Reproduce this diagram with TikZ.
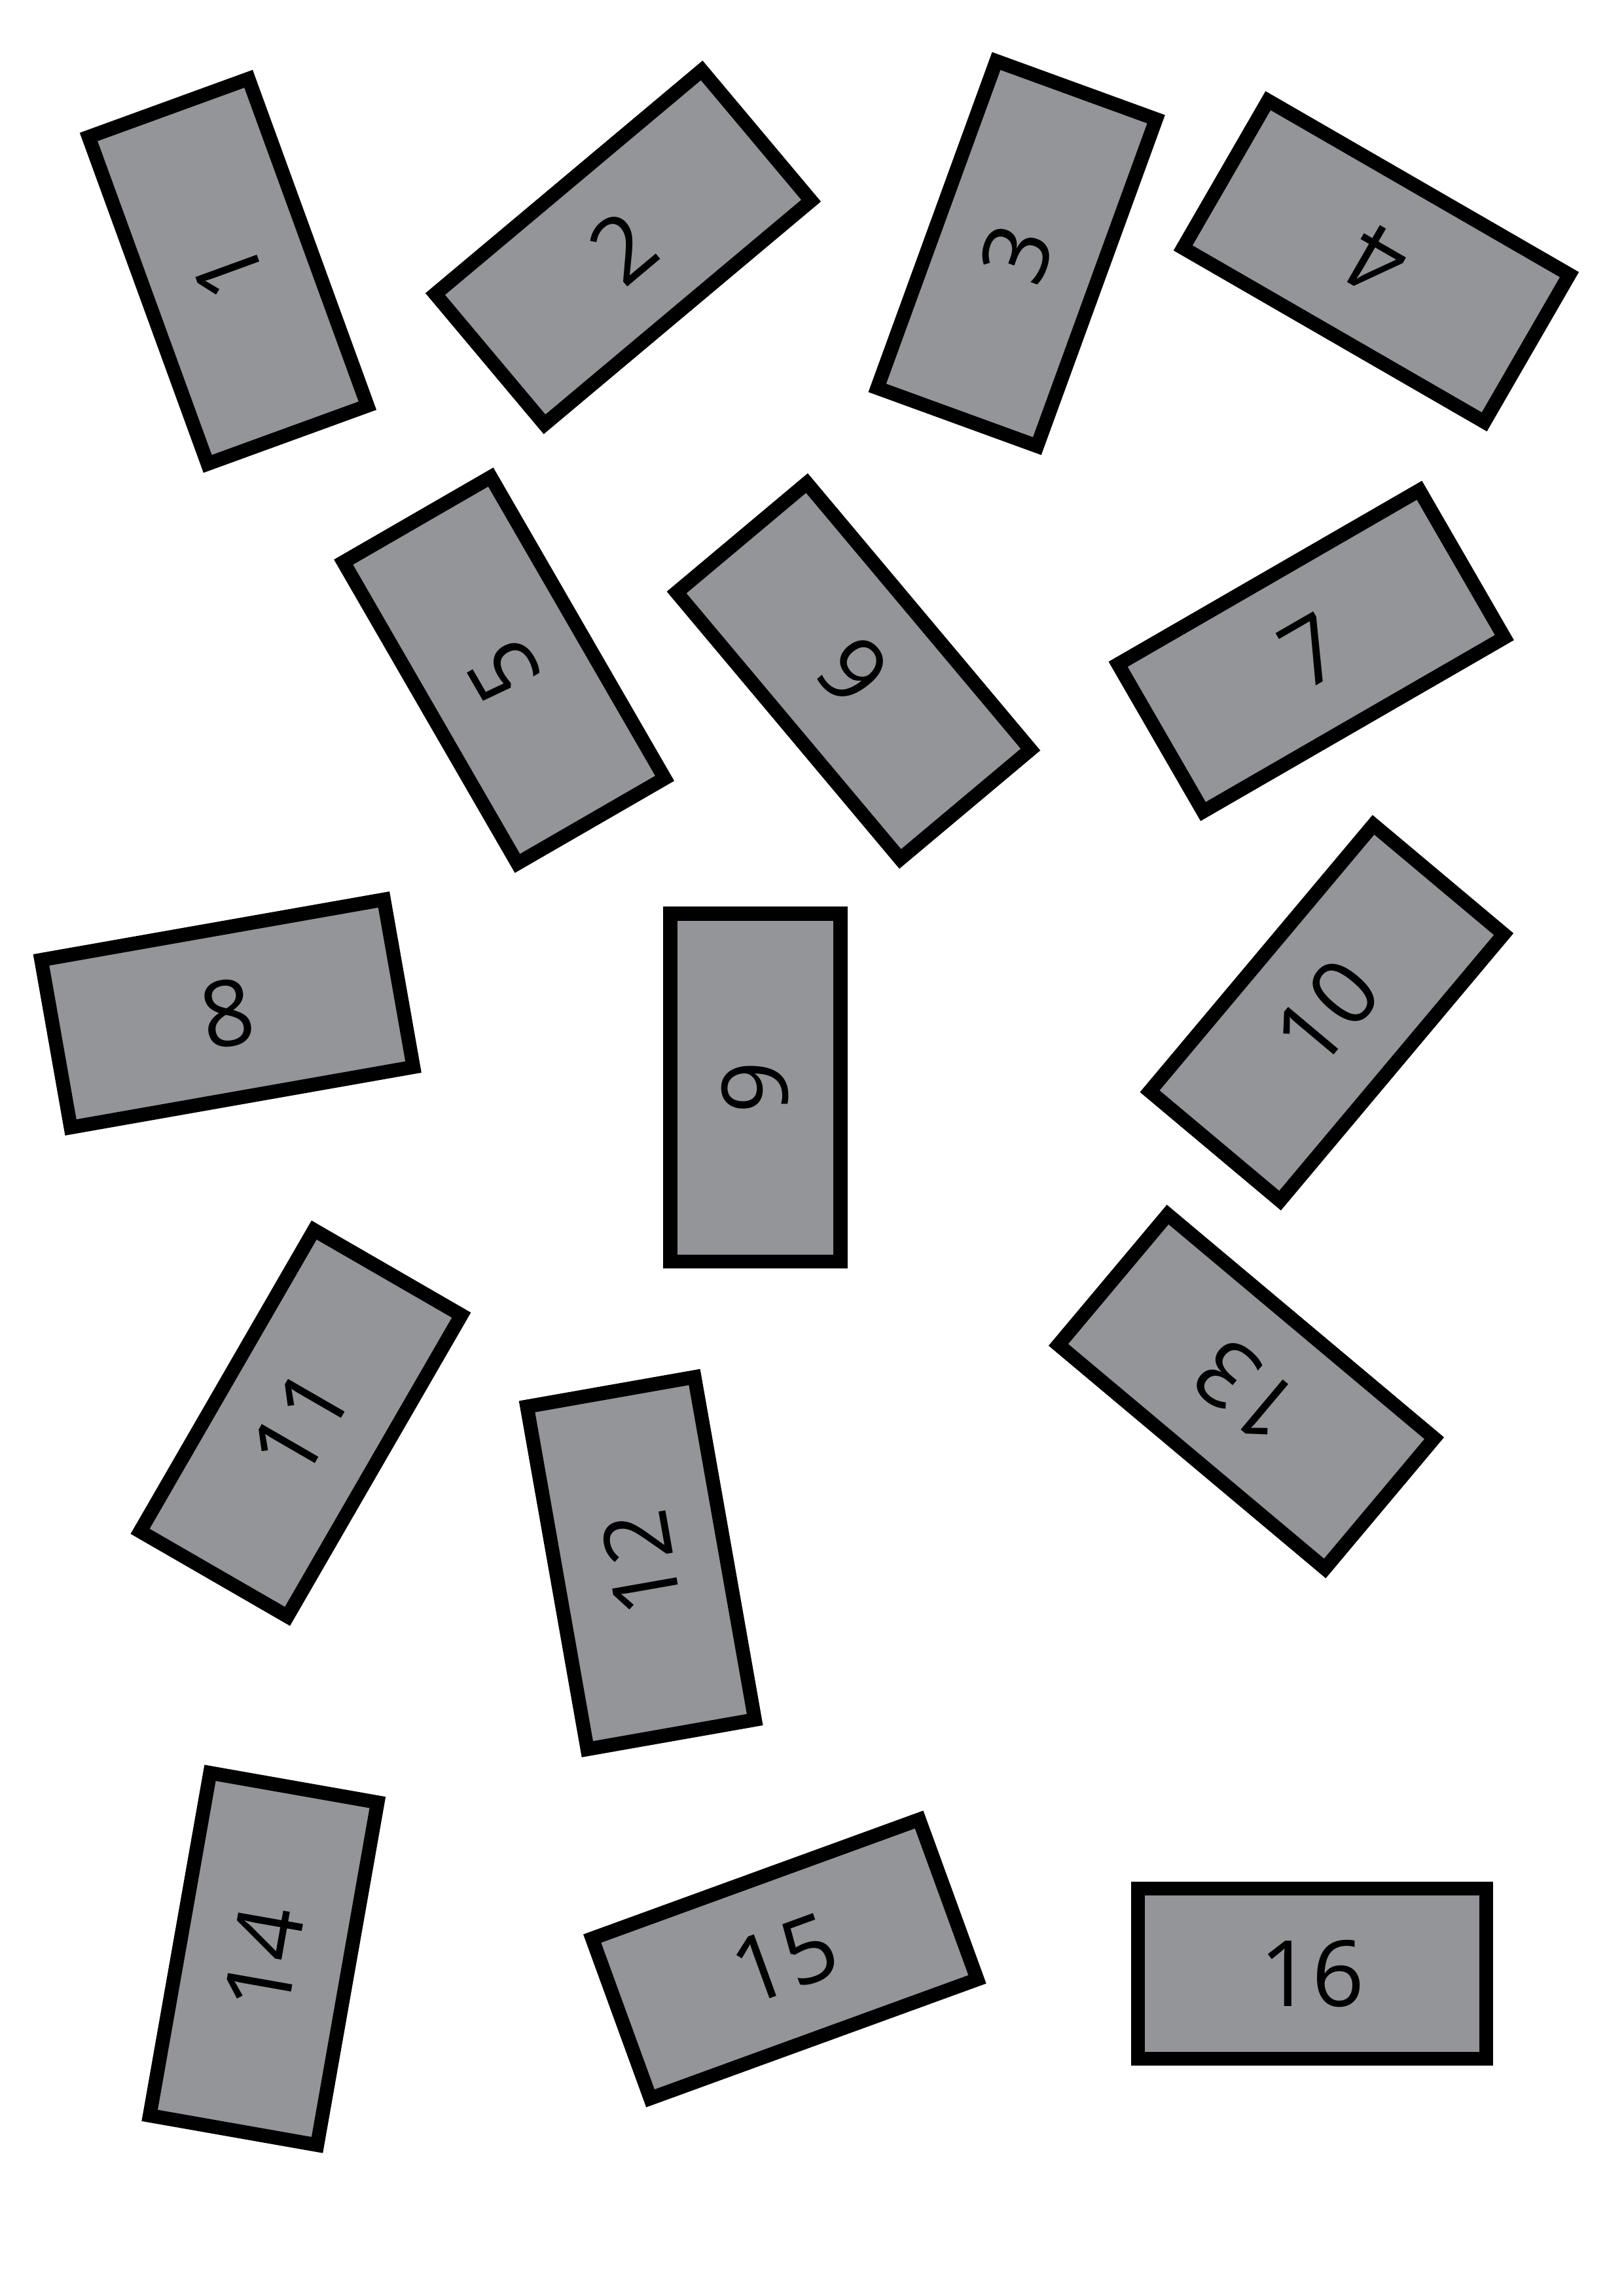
\documentclass[tikz,border=0pt]{standalone}
\usepackage{fontspec}
\setmainfont{Open Sans}
\usepackage{tikz}

\definecolor{tilegray}{RGB}{147,149,152}

\begin{document}
\begin{tikzpicture}[
  x=1mm, y=1mm,
  tile/.style={
    draw=black,
    fill=tilegray,
    line width=1.8mm,
    minimum width=45mm,
    minimum height=22mm,
    inner sep=0pt,
    font=\fontsize{33.7}{40}\selectfont
  }
]
\useasboundingbox (0,0) rectangle (210,297);

\node[tile, rotate=110] (tile1)  at (29.5,261.9)  {1};
\node[tile, rotate=40]  (tile2)  at (80.6,265.0)  {2};
\node[tile, rotate=70]  (tile3)  at (131.5,264.2) {3};
\node[tile, rotate=150] (tile4)  at (178.0,263.2) {4};

\node[tile, rotate=120] (tile5)  at (65.2,210.3)  {5};
\node[tile, rotate=130] (tile6)  at (110.4,210.2) {6};
\node[tile, rotate=30]  (tile7)  at (169.6,212.8) {7};

\node[tile, rotate=10]  (tile8)  at (29.4,165.9)  {8};
\node[tile, rotate=90]  (tile9)  at (97.7,156.3)  {9};
\node[tile, rotate=50]  (tile10) at (171.6,166.0) {10};

\node[tile, rotate=60]  (tile11) at (38.9,112.9)  {11};
\node[tile, rotate=100] (tile12) at (82.9,94.8)   {12};
\node[tile, rotate=140] (tile13) at (161.2,117.0) {13};

\node[tile, rotate=80]  (tile14) at (34.1,43.6)   {14};
\node[tile, rotate=20]  (tile15) at (101.5,43.6)  {15};
\node[tile]             (tile16) at (169.7,41.7)  {16};

\end{tikzpicture}
\end{document}
